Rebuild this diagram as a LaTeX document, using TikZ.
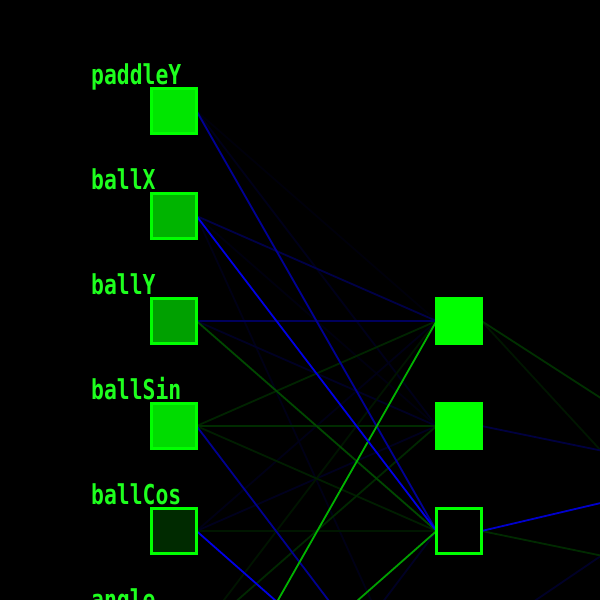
\documentclass[tikz,border=0pt]{standalone}
\usepackage{fontspec}
\newfontfamily\pixfont{DejaVu Sans Mono}
\pgfdeclarelayer{bgl}
\pgfdeclarelayer{edges}
\pgfsetlayers{bgl,edges,main}
\definecolor{nodegreen}{RGB}{0,255,0}
\definecolor{labelgreen}{RGB}{30,255,30}
\definecolor{fpaddle}{RGB}{0,230,0}
\definecolor{fballx}{RGB}{0,180,0}
\definecolor{fbally}{RGB}{0,160,0}
\definecolor{fballsin}{RGB}{0,220,0}
\definecolor{fballcos}{RGB}{0,42,0}
\newcommand\wb[3]{\draw[wire,draw={rgb,255:red,0;green,0;blue,#3}] (#1) -- (#2);}
\newcommand\wg[3]{\draw[wire,draw={rgb,255:red,0;green,#3;blue,0}] (#1) -- (#2);}
\begin{document}
\begin{tikzpicture}[x=1pt,y=-1pt,
  inbox/.style={draw=nodegreen, line width=3pt, minimum size=45pt, inner sep=0pt, outer sep=0pt},
  lbl/.style={anchor=base west, inner sep=0pt, text=labelgreen, font=\pixfont\bfseries\fontsize{27.4}{28}\selectfont},
  wire/.style={line width=1.8pt}]
\useasboundingbox (0,0) rectangle (600,600);
\begin{pgfonlayer}{bgl}
\fill[black] (0,0) rectangle (600,600);
\end{pgfonlayer}
% input nodes
\node[inbox, fill=fpaddle] (i0) at (174,111) {};
\node[inbox, fill=fballx] (i1) at (174,216) {};
\node[inbox, fill=fbally] (i2) at (174,321) {};
\node[inbox, fill=fballsin] (i3) at (174,426) {};
\node[inbox, fill=fballcos] (i4) at (174,531) {};
\node[inbox, fill=fballcos] (i5) at (174,636) {};
\coordinate (i6) at (198,741);
\coordinate (i7) at (198,846);
% labels
\node[lbl] (l0) at (91,84) {\scalebox{0.78}[1]{paddleY}};
\node[lbl] (l1) at (91,189) {\scalebox{0.78}[1]{ballX}};
\node[lbl] (l2) at (91,294) {\scalebox{0.78}[1]{ballY}};
\node[lbl] (l3) at (91,399) {\scalebox{0.78}[1]{ballSin}};
\node[lbl] (l4) at (91,504) {\scalebox{0.78}[1]{ballCos}};
\node[lbl] (l5) at (91,609) {\scalebox{0.78}[1]{angle}};
% hidden nodes
\node[inbox, fill=nodegreen] (h0) at (459,321) {};
\node[inbox, fill=nodegreen] (h1) at (459,426) {};
\node[inbox, fill=black] (h2) at (459,531) {};
\coordinate (h3w) at (435,636);
\coordinate (h3e) at (483,636);
\coordinate (h4w) at (435,741);
% next layer (off picture)
\coordinate (o0) at (720,475);
\coordinate (o1) at (720,580);
\begin{pgfonlayer}{edges}
% faint
\wb{i0.east}{h0.west}{12}
\wb{i0.east}{h1.west}{26}
\wb{i1.east}{h1.west}{16}
\wb{i1.east}{h4w}{22}
\wb{i2.east}{h1.west}{36}
\wb{i4.east}{h0.west}{22}
\wb{i4.east}{h1.west}{30}
\wb{i7}{h2.west}{36}
\wg{i4.east}{h2.west}{22}
\wg{i5.east}{h0.west}{20}
\wg{i3.east}{h0.west}{36}
\wg{i3.east}{h2.west}{30}
\wg{i3.east}{h1.west}{44}
\wg{i5.east}{h1.west}{40}
\wg{h0.east}{o1}{22}
\wb{h3e}{o0}{40}
% medium
\wb{i1.east}{h0.west}{72}
\wb{i2.east}{h0.west}{92}
\wg{i2.east}{h2.west}{72}
\wg{h0.east}{o0}{48}
\wb{h1.east}{o0}{64}
\wg{h2.east}{o1}{42}
\wb{i0.east}{h2.west}{150}
\wb{i3.east}{h4w}{145}
% bright
\wg{i6}{h2.west}{160}
\wg{i6}{h0.west}{180}
\wb{i1.east}{h2.west}{230}
\wb{i4.east}{h4w}{230}
\wb{h2.east}{o0}{205}
\end{pgfonlayer}
\end{tikzpicture}
\end{document}
